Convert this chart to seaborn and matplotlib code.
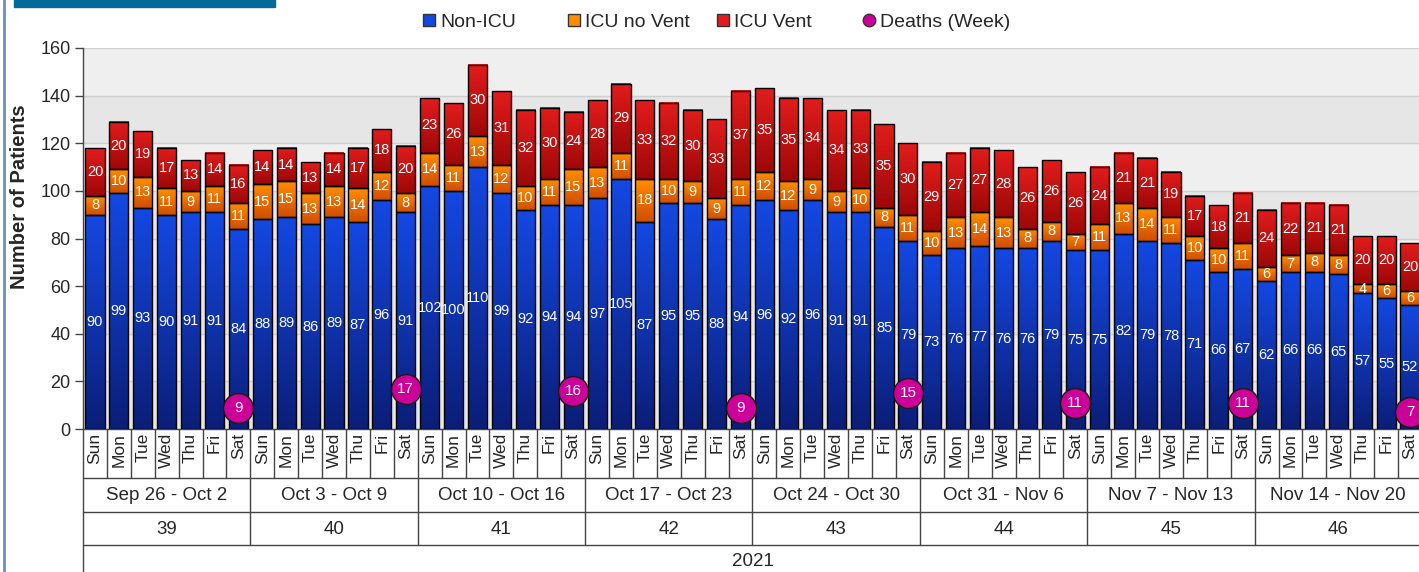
import numpy as np
import pandas as pd
import matplotlib
matplotlib.use("Agg")
import matplotlib.pyplot as plt
import matplotlib.transforms as mtransforms
from matplotlib.colors import LinearSegmentedColormap
from matplotlib.lines import Line2D
from matplotlib.patches import Rectangle
import seaborn as sns

# === Data ===
day_names = ["Sun", "Mon", "Tue", "Wed", "Thu", "Fri", "Sat"]
week_ranges = ["Sep 26 - Oct 2", "Oct 3 - Oct 9", "Oct 10 - Oct 16", "Oct 17 - Oct 23",
               "Oct 24 - Oct 30", "Oct 31 - Nov 6", "Nov 7 - Nov 13", "Nov 14 - Nov 20"]
week_numbers = ["39", "40", "41", "42", "43", "44", "45", "46"]
year_label = "2021"

non_icu = [90, 99, 93, 90, 91, 91, 84,
           88, 89, 86, 89, 87, 96, 91,
           102, 100, 110, 99, 92, 94, 94,
           97, 105, 87, 95, 95, 88, 94,
           96, 92, 96, 91, 91, 85, 79,
           73, 76, 77, 76, 76, 79, 75,
           75, 82, 79, 78, 71, 66, 67,
           62, 66, 66, 65, 57, 55, 52]
icu_no_vent = [8, 10, 13, 11, 9, 11, 11,
               15, 15, 13, 13, 14, 12, 8,
               14, 11, 13, 12, 10, 11, 15,
               13, 11, 18, 10, 9, 9, 11,
               12, 12, 9, 9, 10, 8, 11,
               10, 13, 14, 13, 8, 8, 7,
               11, 13, 14, 11, 10, 10, 11,
               6, 7, 8, 8, 4, 6, 6]
icu_vent = [20, 20, 19, 17, 13, 14, 16,
            14, 14, 13, 14, 17, 18, 20,
            23, 26, 30, 31, 32, 30, 24,
            28, 29, 33, 32, 30, 33, 37,
            35, 35, 34, 34, 33, 35, 30,
            29, 27, 27, 28, 26, 26, 26,
            24, 21, 21, 19, 17, 18, 21,
            24, 22, 21, 21, 20, 20, 20]
deaths_week = [9, 17, 16, 9, 15, 11, 11, 7]

n_days = len(non_icu)
df = pd.DataFrame({"day": np.arange(n_days), "non_icu": non_icu,
                   "icu_no_vent": icu_no_vent, "icu_vent": icu_vent})
df["base_nv"] = df["non_icu"]
df["base_v"] = df["non_icu"] + df["icu_no_vent"]
df_deaths = pd.DataFrame({"day": np.arange(len(deaths_week)) * 7 + 6, "deaths": deaths_week})

# === Style ===
sns.set_theme(style="white")
plt.rcParams["font.family"] = ["Liberation Sans", "DejaVu Sans"]

W, H = 1419, 572
fig = plt.figure(figsize=(W / 100, H / 100), dpi=100)
ax = fig.add_axes([83 / W, 1 - 429 / H, 1339 / W, 381 / H])


def fy(py):
    return 1 - py / H


blue_cmap = LinearSegmentedColormap.from_list("b", ["#0b1e78", "#1448e2"])
orange_cmap = LinearSegmentedColormap.from_list("o", ["#d04e00", "#ff8d00"])
red_cmap = LinearSegmentedColormap.from_list("r", ["#9e0808", "#e21c1c"])

# background bands + grid
for lo in range(0, 160, 20):
    ax.axhspan(lo, lo + 20, color="#efefef" if (lo // 20) % 2 == 1 else "#e6e6e6", zorder=0, lw=0)
for v in range(20, 161, 20):
    ax.axhline(v, color="#cfcfcf", lw=1, zorder=1)

# === Stacked bars ===
layers = [("non_icu", None, blue_cmap, "#1448e2"),
          ("icu_no_vent", "base_nv", orange_cmap, "#ff8d00"),
          ("icu_vent", "base_v", red_cmap, "#e21c1c")]
grad = np.linspace(0, 1, 64).reshape(-1, 1)
for col, base, cmap, c in layers:
    bottom = df[base].values if base else None
    sns.barplot(data=df, x="day", y=col, bottom=bottom, width=0.8, errorbar=None,
                color=c, edgecolor="black", linewidth=1, zorder=3, ax=ax)
    bars = ax.containers[-1]
    for patch, val in zip(bars.patches, df[col]):
        x0, y0 = patch.get_x(), patch.get_y()
        w, h = patch.get_width(), patch.get_height()
        ax.imshow(grad, cmap=cmap, extent=(x0, x0 + w, y0, y0 + h), origin="lower",
                  aspect="auto", zorder=2.5, interpolation="bilinear")
        patch.set_facecolor("none")
        ax.text(x0 + w / 2, y0 + h / 2, str(val), color="white", fontsize=10.5,
                ha="center", va="center", zorder=4)

# === Deaths markers ===
sns.scatterplot(data=df_deaths, x="day", y="deaths", s=460, color="#cc0099",
                edgecolor="#1a1a1a", linewidth=1, zorder=5, ax=ax, clip_on=False, legend=False)
for d, v in zip(df_deaths["day"], df_deaths["deaths"]):
    ax.text(d, v, str(v), color="white", fontsize=11, ha="center", va="center", zorder=6)

ax.set_xlim(-0.5, 55.5)
ax.set_ylim(0, 160)
ax.set_xticks([])
ax.set_xlabel("")
ax.set_yticks(range(0, 161, 20))
ax.tick_params(axis="y", left=True, length=6, width=1, color="#444444", labelsize=13, pad=3)
ax.set_ylabel("Number of Patients", fontsize=14.5, fontweight="bold")
ax.yaxis.set_label_coords(-0.04, 0.61)
for s in ["top", "right", "bottom"]:
    ax.spines[s].set_visible(False)
ax.spines["left"].set_color("#444444")
ax.spines["left"].set_linewidth(1)

# === Category table below the axis ===
trans = mtransforms.blended_transform_factory(ax.transData, fig.transFigure)
lc = "#444444"
for i in range(n_days):
    ax.text(i, fy(433), day_names[i % 7], rotation=90, ha="center", va="top",
            fontsize=12.5, transform=trans)
    if i > 0:
        ax.plot([i - 0.5, i - 0.5], [fy(429), fy(478)], color=lc, lw=1, transform=trans, clip_on=False)
ax.plot([-0.5, -0.5], [fy(429), fy(H + 5)], color=lc, lw=1, transform=trans, clip_on=False)
for py in [429, 478, 512, 545]:
    ax.plot([-0.5, 57], [fy(py), fy(py)], color=lc, lw=1, transform=trans, clip_on=False)
for k, (rng, wk) in enumerate(zip(week_ranges, week_numbers)):
    xc = k * 7 + 3
    ax.text(xc, fy(495), rng, ha="center", va="center", fontsize=13.5, transform=trans)
    ax.text(xc, fy(529), wk, ha="center", va="center", fontsize=13.5, transform=trans)
    if k > 0:
        ax.plot([k * 7 - 0.5] * 2, [fy(478), fy(545)], color=lc, lw=1, transform=trans, clip_on=False)
ax.text((n_days - 1) / 2, fy(561), year_label, ha="center", va="center", fontsize=13.5, transform=trans)

# === Legend ===
entries = [("Non-ICU", "s", "#1448e2", 428), ("ICU no Vent", "s", "#ff8d00", 573),
           ("ICU Vent", "s", "#e21c1c", 722), ("Deaths (Week)", "o", "#cc0099", 868)]
for label, mk, c, px in entries:
    h = Line2D([], [], marker=mk, linestyle="none", markerfacecolor=c,
               markeredgecolor="#333333", markersize=9 if mk == "o" else 8)
    fig.legend(handles=[h], labels=[label], loc="center left", frameon=False,
               bbox_to_anchor=((px - 7) / W, fy(22)), fontsize=14, handlelength=0.8,
               handletextpad=0.2, borderpad=0, borderaxespad=0)

# === Frame decorations ===
fig.patches.append(Rectangle((14 / W, fy(7)), 261 / W, 8 / H, transform=fig.transFigure,
                             color="#056a9a", zorder=10))
fig.lines.append(Line2D([3.5 / W, 3.5 / W], [0, 1], transform=fig.transFigure,
                        color="#6b8fbf", lw=2))

fig.savefig("out.png", dpi=100)
